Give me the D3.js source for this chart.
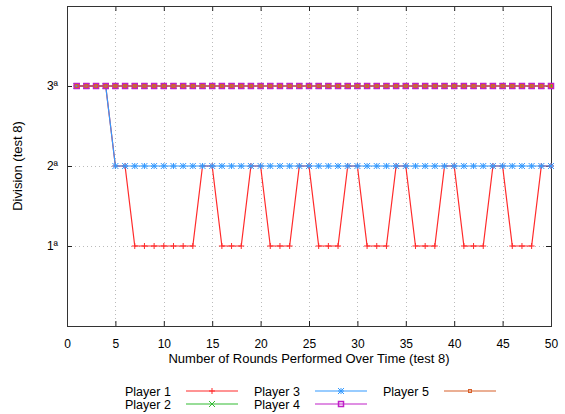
<!DOCTYPE html>
<html>
<head>
<meta charset="utf-8">
<script src="https://cdn.jsdelivr.net/npm/d3@7"></script>
<style>
  body { margin: 0; background: #fff; }
  text { font-family: "Liberation Sans", Arial, sans-serif; fill: #000; }
</style>
</head>
<body>
<div id="chart"></div>
<script>
const rounds = [1, 2, 3, 4, 5, 6, 7, 8, 9, 10, 11, 12, 13, 14, 15, 16, 17, 18, 19, 20,
    21, 22, 23, 24, 25, 26, 27, 28, 29, 30, 31, 32, 33, 34, 35, 36, 37, 38, 39, 40,
    41, 42, 43, 44, 45, 46, 47, 48, 49, 50];

const player1 = [3, 3, 3, 3, 2, 2, 1, 1, 1, 1, 1, 1, 1, 2, 2, 1, 1, 1, 2, 2,
    1, 1, 1, 2, 2, 1, 1, 1, 2, 2, 1, 1, 1, 2, 2, 1, 1, 1, 2, 2,
    1, 1, 1, 2, 2, 1, 1, 1, 2, 2];
const player2 = [3, 3, 3, 3, 3, 3, 3, 3, 3, 3, 3, 3, 3, 3, 3, 3, 3, 3, 3, 3,
    3, 3, 3, 3, 3, 3, 3, 3, 3, 3, 3, 3, 3, 3, 3, 3, 3, 3, 3, 3,
    3, 3, 3, 3, 3, 3, 3, 3, 3, 3];
const player3 = [3, 3, 3, 3, 2, 2, 2, 2, 2, 2, 2, 2, 2, 2, 2, 2, 2, 2, 2, 2,
    2, 2, 2, 2, 2, 2, 2, 2, 2, 2, 2, 2, 2, 2, 2, 2, 2, 2, 2, 2,
    2, 2, 2, 2, 2, 2, 2, 2, 2, 2];
const player4 = [3, 3, 3, 3, 3, 3, 3, 3, 3, 3, 3, 3, 3, 3, 3, 3, 3, 3, 3, 3,
    3, 3, 3, 3, 3, 3, 3, 3, 3, 3, 3, 3, 3, 3, 3, 3, 3, 3, 3, 3,
    3, 3, 3, 3, 3, 3, 3, 3, 3, 3];
const player5 = [3, 3, 3, 3, 3, 3, 3, 3, 3, 3, 3, 3, 3, 3, 3, 3, 3, 3, 3, 3,
    3, 3, 3, 3, 3, 3, 3, 3, 3, 3, 3, 3, 3, 3, 3, 3, 3, 3, 3, 3,
    3, 3, 3, 3, 3, 3, 3, 3, 3, 3];

const playerNames = ['Player 1', 'Player 2', 'Player 3', 'Player 4', 'Player 5'];
const xTicks = [0, 5, 10, 15, 20, 25, 30, 35, 40, 45, 50];
const yTicks = [1, 2, 3];
const yTickLabels = ['1ª', '2ª', '3ª'];

const width = 565;
const height = 414;
const plotLeft = 67, plotRight = 551, plotTop = 6, plotBottom = 326;

const series = [
    { name: playerNames[0], values: player1, color: '#ff2a2a', marker: 'plus' },
    { name: playerNames[1], values: player2, color: '#33bb33', marker: 'cross' },
    { name: playerNames[2], values: player3, color: '#3399ff', marker: 'star' },
    { name: playerNames[3], values: player4, color: '#c020c8', marker: 'square' },
    { name: playerNames[4], values: player5, color: '#d8602a', marker: 'smallsquare' },
];

const x = d3.scaleLinear().domain([0, 50]).range([plotLeft, plotRight]);
const y = d3.scaleLinear().domain([0, 4]).range([plotBottom, plotTop]);

const svg = d3.select('#chart')
    .append('svg')
    .attr('width', width)
    .attr('height', height);

// grid
svg.append('g')
    .selectAll('line')
    .data(xTicks.slice(1, -1))
    .enter()
    .append('line')
    .attr('x1', d => Math.round(x(d)) + 0.5)
    .attr('x2', d => Math.round(x(d)) + 0.5)
    .attr('y1', plotTop)
    .attr('y2', plotBottom)
    .attr('stroke', '#bbb')
    .attr('stroke-dasharray', '1,3');

svg.append('g')
    .selectAll('line')
    .data(yTicks)
    .enter()
    .append('line')
    .attr('x1', plotLeft)
    .attr('x2', plotRight)
    .attr('y1', d => Math.round(y(d)) + 0.5)
    .attr('y2', d => Math.round(y(d)) + 0.5)
    .attr('stroke', '#bbb')
    .attr('stroke-dasharray', '1,3');

// axes with inward ticks, mirrored
const fmtY = d => yTickLabels[yTicks.indexOf(d)];

svg.append('g')
    .attr('transform', `translate(0, ${plotBottom})`)
    .call(d3.axisBottom(x).tickValues(xTicks).tickSizeInner(-5).tickSizeOuter(0).tickPadding(13))
    .call(g => g.select('.domain').remove())
    .style('font-size', '12px');

svg.append('g')
    .attr('transform', `translate(0, ${plotTop})`)
    .call(d3.axisTop(x).tickValues(xTicks).tickSizeInner(-5).tickSizeOuter(0).tickFormat(''))
    .call(g => g.select('.domain').remove());

svg.append('g')
    .attr('transform', `translate(${plotLeft}, 0)`)
    .call(d3.axisLeft(y).tickValues(yTicks).tickFormat(fmtY).tickSizeInner(-5).tickSizeOuter(0).tickPadding(9))
    .call(g => g.select('.domain').remove())
    .style('font-size', '12px');

svg.append('g')
    .attr('transform', `translate(${plotRight}, 0)`)
    .call(d3.axisRight(y).tickValues(yTicks).tickSizeInner(-5).tickSizeOuter(0).tickFormat(''))
    .call(g => g.select('.domain').remove());

svg.selectAll('.tick line').attr('stroke', '#222');

svg.append('rect')
    .attr('x', plotLeft + 0.5)
    .attr('y', plotTop + 0.5)
    .attr('width', plotRight - plotLeft)
    .attr('height', plotBottom - plotTop)
    .attr('fill', 'none')
    .attr('stroke', '#333')
    .attr('stroke-width', 1);

// markers
function drawMarker(g, type, cx, cy, color) {
    if (type === 'plus') {
        g.append('path').attr('d', `M${cx - 3},${cy}H${cx + 3}M${cx},${cy - 3}V${cy + 3}`)
        .attr('stroke', color).attr('fill', 'none');
    } else if (type === 'cross') {
        g.append('path').attr('d', `M${cx - 3},${cy - 3}L${cx + 3},${cy + 3}M${cx - 3},${cy + 3}L${cx + 3},${cy - 3}`)
        .attr('stroke', color).attr('fill', 'none');
    } else if (type === 'star') {
        g.append('path').attr('d', `M${cx - 3},${cy}H${cx + 3}M${cx},${cy - 3}V${cy + 3}M${cx - 3},${cy - 3}L${cx + 3},${cy + 3}M${cx - 3},${cy + 3}L${cx + 3},${cy - 3}`)
        .attr('stroke', color).attr('fill', 'none');
    } else if (type === 'square') {
        g.append('rect').attr('x', cx - 2.5).attr('y', cy - 2.5).attr('width', 5).attr('height', 5)
        .attr('stroke', color).attr('stroke-width', 1.5).attr('fill', 'none');
    } else {
        g.append('rect').attr('x', cx - 1.5).attr('y', cy - 1.5).attr('width', 3).attr('height', 3)
        .attr('stroke', color).attr('fill', 'none');
    }
}

const line = d3.line()
    .x((d, i) => x(rounds[i]))
    .y(d => y(d));

series.forEach((s) => {
    const g = svg.append('g');
    g.append('path')
    .datum(s.values)
    .attr('d', line)
    .attr('fill', 'none')
    .attr('stroke', s.color)
    .attr('stroke-width', 1.2);
    s.values.forEach((v, i) => drawMarker(g, s.marker, x(rounds[i]), y(v), s.color));
});

// axis titles
svg.append('text')
    .attr('x', (plotLeft + plotRight) / 2)
    .attr('y', 363)
    .attr('text-anchor', 'middle')
    .style('font-size', '13px')
    .text('Number of Rounds Performed Over Time (test 8)');

svg.append('text')
    .attr('transform', `translate(22, ${(plotTop + plotBottom) / 2}) rotate(-90)`)
    .attr('text-anchor', 'middle')
    .style('font-size', '13px')
    .text('Division (test 8)');

// legend
const legendCols = [125, 254, 383];
const legendRows = [391, 404];
series.forEach((s, i) => {
    const col = Math.floor(i / 2);
    const row = i % 2;
    const lx = legendCols[col];
    const ly = legendRows[row];
    const g = svg.append('g');
    g.append('text')
    .attr('x', lx)
    .attr('y', ly + 4.5)
    .style('font-size', '12.5px')
    .text(s.name);
    g.append('line')
    .attr('x1', lx + 61)
    .attr('x2', lx + 113)
    .attr('y1', ly)
    .attr('y2', ly)
    .attr('stroke', s.color)
    .attr('stroke-width', 1.2);
    drawMarker(g, s.marker, lx + 87, ly, s.color);
});
</script>
</body>
</html>
